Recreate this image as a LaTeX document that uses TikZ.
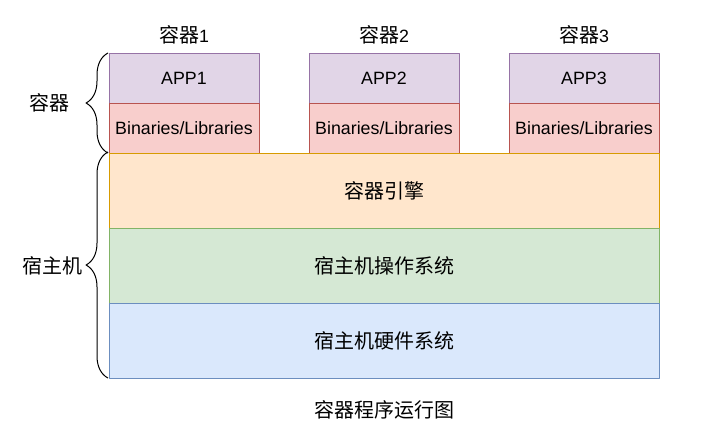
\documentclass[tikz,border=0pt]{standalone}
\usepackage{fontspec}
\setmainfont{Liberation Sans}
\newfontfamily\cjk{Noto Sans CJK SC}
\usetikzlibrary{positioning, decorations.pathreplacing}

\definecolor{appfill}{HTML}{E1D5E7}
\definecolor{appline}{HTML}{9673A6}
\definecolor{libfill}{HTML}{F8CECC}
\definecolor{libline}{HTML}{B85450}
\definecolor{enginefill}{HTML}{FFE6CC}
\definecolor{engineline}{HTML}{D79B00}
\definecolor{osfill}{HTML}{D5E8D4}
\definecolor{osline}{HTML}{82B366}
\definecolor{hwfill}{HTML}{DAE8FC}
\definecolor{hwline}{HTML}{6C8EBF}

\newcommand{\zh}[1]{{\cjk\fontsize{20}{24}\selectfont #1}}

\begin{document}
\begin{tikzpicture}[x=1pt, y=-1pt, line join=round, font=\fontsize{17.8}{21}\selectfont,
    layer/.style={draw, line width=1pt, inner sep=0pt, outer sep=0pt, text=black},
    appbox/.style={layer, fill=appfill, draw=appline, minimum width=150pt, minimum height=50pt},
    libbox/.style={layer, fill=libfill, draw=libline, minimum width=150pt, minimum height=50pt},
    hostbox/.style={layer, minimum width=550pt, minimum height=75pt},
    bracket/.style={draw, line width=1pt, decorate, decoration={brace, amplitude=22pt}}]
    \useasboundingbox (0,0) rectangle (718,442);

    % containers
    \foreach \i/\x in {1/184, 2/384, 3/584}{
        \node[appbox] (app\i) at (\x,78) {APP\i};
        \node[libbox, below=0pt of app\i] (lib\i) {Binaries/Libraries};
        \node (title\i) at (\x,35) {\zh{容器}\i};
    }

    % host layers
    \node[hostbox, fill=enginefill, draw=engineline] (engine) at (384,190.5) {\zh{容器引擎}};
    \node[hostbox, fill=osfill, draw=osline, below=0pt of engine] (hostos) {\zh{宿主机操作系统}};
    \node[hostbox, fill=hwfill, draw=hwline, below=0pt of hostos] (hosthw) {\zh{宿主机硬件系统}};

    % braces
    \draw[bracket] ([xshift=-1pt]lib1.south west) -- ([xshift=-1pt]app1.north west);
    \draw[bracket] ([xshift=-1pt]hosthw.south west) -- ([xshift=-1pt,yshift=1pt]engine.north west);
    \node (lblcontainer) at (50,103) {\zh{容器}};
    \node (lblhost) at (52,266) {\zh{宿主机}};

    \node (caption) at (384,410) {\zh{容器程序运行图}};
\end{tikzpicture}
\end{document}
